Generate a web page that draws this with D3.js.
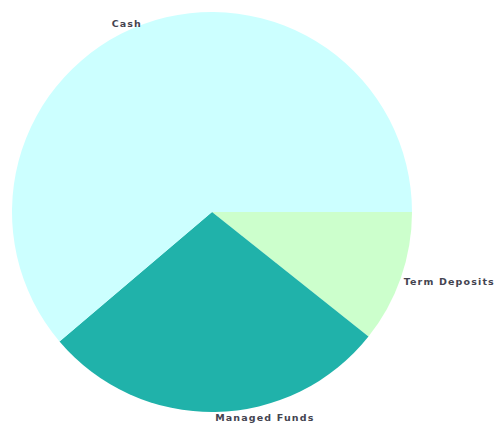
<!DOCTYPE html>
<html>
<head>
<meta charset="utf-8">
<script src="https://cdn.jsdelivr.net/npm/d3@7"></script>
<style>
  html, body { margin: 0; padding: 0; background: #fff; }
  svg { display: block; }
  .label { font-family: "DejaVu Sans", Verdana, sans-serif; font-weight: bold; font-size: 9.5px; letter-spacing: 1.15px; fill: #444450; }
</style>
</head>
<body>
<svg id="chart" width="498" height="428"></svg>
<script>
// Portfolio allocation by asset type
const categories = ["Term Deposits", "Managed Funds", "Cash"];
const values = [10.7, 28.1, 61.2];
const colors = ["#ccffcc", "#20b2aa", "#ccffff"];

const width = 498, height = 428;
const cx = 212, cy = 212, radius = 200, labelRadius = 203;

const svg = d3.select("#chart");
const g = svg.append("g").attr("transform", `translate(${cx},${cy})`);

const color = d3.scaleOrdinal().domain(categories).range(colors);

// Start at 3 o'clock and run clockwise
const pie = d3.pie()
  .sort(null)
  .value(d => d.value)
  .startAngle(Math.PI / 2)
  .endAngle(Math.PI / 2 + 2 * Math.PI);

const data = categories.map((c, i) => ({ name: c, value: values[i] }));
const arcs = pie(data);

const arc = d3.arc().innerRadius(0).outerRadius(radius);

g.selectAll("path.slice")
  .data(arcs)
  .join("path")
  .attr("class", "slice")
  .attr("d", arc)
  .attr("fill", d => color(d.data.name));

const labelArc = d3.arc().innerRadius(labelRadius).outerRadius(labelRadius);

g.selectAll("text.label")
  .data(arcs)
  .join("text")
  .attr("class", "label")
  .attr("transform", d => {
    const [x, y] = labelArc.centroid(d);
    return `translate(${x},${y})`;
  })
  .attr("dy", "0.6em")
  .attr("text-anchor", d => {
    const mid = (d.startAngle + d.endAngle) / 2;
    return Math.sin(mid) >= -0.01 ? "start" : "end";
  })
  .text(d => d.data.name);
</script>
</body>
</html>
